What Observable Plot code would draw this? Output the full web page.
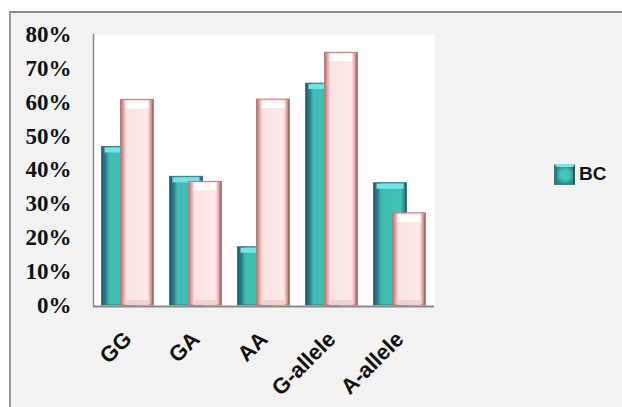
<!DOCTYPE html>
<html>
<head>
<meta charset="utf-8">
<script src="https://cdn.jsdelivr.net/npm/d3@7"></script>
<script src="https://cdn.jsdelivr.net/npm/@observablehq/plot@0.6"></script>
<style>
  html, body { margin: 0; padding: 0; background: white; width: 622px; height: 407px; overflow: hidden; }
  #bg { position: absolute; left: 9px; top: 11px; width: 700px; height: 500px; background: #f2f2f2;
        border-top: 2px solid #8a8a8a; border-left: 2px solid #9a9a9a; }
  #chart { position: absolute; left: 0; top: 0; }
  #legend { position: absolute; left: 554px; top: 163px; display: flex; align-items: center;
            font-family: "Liberation Sans", Arial, sans-serif; font-weight: bold; font-size: 19px; color: #111; }
  #legend .sw { width: 21px; height: 21px; margin-right: 4px; box-sizing: border-box;
      background: radial-gradient(circle, #45c8bb 35%, #33a0a0 70%, #256d78 100%);
      border-top: 3px solid #78e4ea; border-left: 3px solid #2c7a86; border-right: 2px solid #215a66; border-bottom: 2px solid #2a8a8e; }
</style>
</head>
<body>
<div id="bg"></div>
<div id="chart"></div>
<div id="legend"><div class="sw"></div><span>BC</span></div>
<script>
const categories = ["GG", "GA", "AA", "G-allele", "A-allele"];
const bcValues = [0.468, 0.38, 0.172, 0.655, 0.361];
const controlValues = [0.607, 0.365, 0.608, 0.746, 0.272];
const yTicks = [0, 0.1, 0.2, 0.3, 0.4, 0.5, 0.6, 0.7, 0.8];

const bc = categories.map((c, i) => ({category: c, value: bcValues[i]}));
const control = categories.map((c, i) => ({category: c, value: controlValues[i]}));

const defs = () => {
  const d = d3.create("svg:defs");
  const teal = d.append("linearGradient").attr("id", "tealGrad").attr("x1", 0).attr("x2", 1).attr("y1", 0).attr("y2", 0);
  [[0, "#22596a"], [0.12, "#2b7c8c"], [0.24, "#3fbcb0"], [0.82, "#42c2b4"], [0.93, "#2f8d94"], [1, "#1d4e58"]]
    .forEach(([o, c]) => teal.append("stop").attr("offset", o).attr("stop-color", c));
  const pink = d.append("linearGradient").attr("id", "pinkGrad").attr("x1", 0).attr("x2", 1).attr("y1", 0).attr("y2", 0);
  [[0, "#b06a6c"], [0.07, "#d99a9a"], [0.18, "#fbe2e2"], [0.82, "#fde8e8"], [0.92, "#dfa2a2"], [1, "#7f5252"]]
    .forEach(([o, c]) => pink.append("stop").attr("offset", o).attr("stop-color", c));
  return d.node();
};

const off = 9.5;
const chart = Plot.plot({
  width: 622,
  height: 407,
  marginLeft: 93,
  marginRight: 188,
  marginTop: 34,
  marginBottom: 102,
  style: {background: "transparent", overflow: "visible"},
  x: {domain: categories, paddingInner: 0.518, paddingOuter: 0.248, label: null},
  y: {domain: [0, 0.8], label: null},
  marks: [
    defs,
    Plot.frame({fill: "white", stroke: null}),
    Plot.barY(bc, {x: "category", y: "value", dx: -off, fill: "url(#tealGrad)", stroke: "#2a6a74", strokeWidth: 0.8}),
    Plot.tickY(bc, {x: "category", y: "value", dx: -off, dy: 3, stroke: "#74e2e8", strokeWidth: 5, insetLeft: 3, insetRight: 3}),
    Plot.barY(control, {x: "category", y: "value", dx: off, fill: "url(#pinkGrad)", stroke: "#b87c7c", strokeWidth: 1}),
    Plot.tickY(control, {x: "category", y: "value", dx: off, dy: 5, stroke: "white", strokeWidth: 7, insetLeft: 5, insetRight: 5}),
    Plot.tickY(control, {x: "category", y: 0, dx: off, dy: -3, stroke: "#f2d0d0", strokeWidth: 5, insetLeft: 5, insetRight: 5}),
    Plot.frame({anchor: "left", stroke: "#8a8a8a", strokeWidth: 1.5}),
    Plot.ruleY([0], {stroke: "#8a8a8a", strokeWidth: 2, dy: 1}),
    Plot.axisY({ticks: yTicks, tickFormat: d3.format(".0%"), tickSize: 0, tickPadding: 22,
      fontFamily: "Liberation Serif, Times New Roman, serif", fontWeight: "bold", fontSize: 23, fill: "#111",
      style: {letterSpacing: "1.5px"}}),
    Plot.axisX({tickSize: 0, tickPadding: 30, tickRotate: -45,
      fontFamily: "Liberation Sans, Arial, sans-serif", fontWeight: "bold", fontSize: 22, fill: "#111"})
  ]
});
document.getElementById("chart").appendChild(chart);
</script>
</body>
</html>
